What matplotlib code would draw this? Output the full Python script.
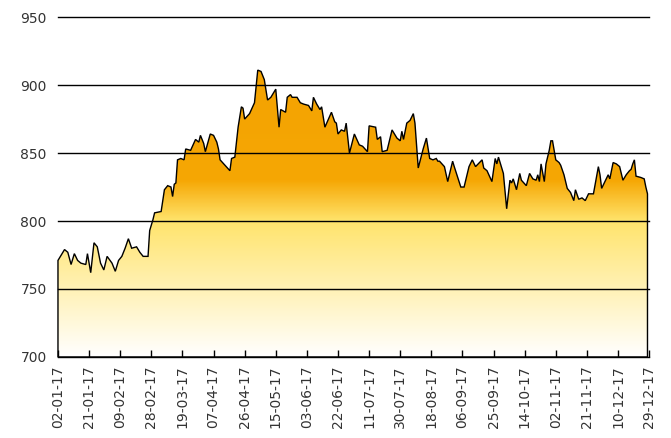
import datetime as dt
import numpy as np
import matplotlib
matplotlib.use("Agg")
import matplotlib.pyplot as plt
import matplotlib.dates as mdates
from matplotlib.colors import LinearSegmentedColormap

# Days since 02-01-17 and the closing values
days = [0, 4, 6, 8, 10, 12, 14, 17, 18, 20, 22, 24, 26, 28, 30, 33, 35, 37, 39,
        41, 43, 45, 48, 50, 52, 55, 56, 58, 59, 63, 65, 67, 69, 70, 71, 72, 73,
        75, 77, 78, 81, 84, 86, 87, 89, 90, 93, 95, 97, 98, 99, 102, 105, 106,
        108, 110, 112, 113, 114, 117, 120, 122, 124, 126, 128, 130, 133, 135,
        136, 139, 140, 142, 143, 146, 148, 150, 153, 155, 156, 158, 160, 161,
        163, 167, 169, 170, 171, 173, 175, 176, 178, 181, 184, 186, 189, 190,
        194, 195, 197, 198, 201, 204, 207, 209, 210, 211, 213, 215, 217, 218,
        220, 223, 225, 227, 229, 231, 232, 233, 236, 238, 241, 242, 246, 248,
        251, 253, 255, 259, 260, 262, 265, 267, 268, 269, 272, 274, 276, 277,
        278, 280, 282, 283, 286, 288, 290, 292, 293, 294, 295, 297, 298, 300,
        301, 302, 304, 306, 307, 309, 311, 313, 315, 316, 318, 320, 322, 324,
        327, 330, 331, 332, 334, 336, 337, 339, 341, 343, 345, 347, 349, 350,
        351, 352, 353, 356, 358, 359, 360]
values = [771, 779, 777, 768, 776, 771, 769, 768, 776, 762, 784, 781, 769, 764,
          774, 769, 763, 771, 774, 780, 787, 780, 781, 777, 774, 774, 793, 801,
          806, 807, 823, 826, 825, 818, 827, 828, 845, 846, 845, 853, 852, 860,
          858, 863, 857, 851, 864, 863, 858, 853, 845, 841, 837, 846, 847, 869,
          884, 883, 875, 879, 887, 911, 910, 904, 889, 891, 897, 869, 882, 880,
          891, 893, 891, 891, 887, 886, 885, 881, 891, 886, 882, 884, 869, 880,
          873, 872, 864, 867, 866, 872, 850, 864, 856, 855, 851, 870, 869, 860,
          862, 851, 852, 867, 861, 859, 866, 860, 872, 874, 879, 872, 839, 853,
          861, 846, 845, 846, 844, 844, 840, 829, 844, 840, 825, 825, 840, 845,
          840, 845, 839, 837, 829, 846, 842, 847, 835, 809, 830, 828, 831, 823,
          835, 830, 826, 835, 831, 830, 834, 829, 842, 829, 842, 852, 859, 859,
          845, 843, 841, 834, 824, 821, 815, 823, 816, 817, 815, 820, 820, 840,
          834, 824, 829, 834, 831, 843, 842, 840, 830, 834, 837, 838, 842, 845,
          833, 832, 831, 825, 820]

start = dt.date(2017, 1, 2)
dates = [start + dt.timedelta(days=d) for d in days]
tick_dates = [start + dt.timedelta(days=19 * i) for i in range(20)]

fig = plt.figure(figsize=(6.71, 4.38), dpi=100)
ax = fig.add_axes([0.0864, 0.185, 0.881, 0.776])

x = mdates.date2num(dates)
ymin, ymax = 700, 950

# gradient fill under the line, clipped to the area polygon
cmap = LinearSegmentedColormap.from_list(
    "gold", [(0.0, "#ffffff"), (0.40, "#ffe46c"), (0.52, "#f6a704"), (1.0, "#f2a000")])
grad = np.linspace(0, 1, 256).reshape(-1, 1)
im = ax.imshow(grad, cmap=cmap, origin="lower", aspect="auto",
               extent=[x[0], x[-1], ymin, ymax], zorder=1)
poly = ax.fill_between(x, values, ymin, facecolor="none", edgecolor="none")
clip = poly.get_paths()[0]
im.set_clip_path(clip, transform=ax.transData)

for v in [750, 800, 850, 900, 950]:
    ax.axhline(v, color="black", lw=1, zorder=2, clip_on=False)

# outline of the area, closed down to the baseline at both ends
ax.fill(np.r_[x[0], x, x[-1]], np.r_[ymin, values, ymin],
        facecolor="none", edgecolor="black", lw=1, zorder=3, clip_on=False)

ax.set_xlim(x[0], x[-1])
ax.set_ylim(ymin, ymax)
ax.set_yticks([700, 750, 800, 850, 900, 950])
ax.set_xticks(mdates.date2num(tick_dates))
ax.xaxis.set_major_formatter(mdates.DateFormatter("%d-%m-%y"))
ax.tick_params(axis="x", direction="in", length=5, width=1, rotation=90,
               labelsize=10, labelcolor="#333333", pad=6)
ax.tick_params(axis="y", length=0, labelsize=10, labelcolor="#333333", pad=8)

for s in ["top", "left", "right"]:
    ax.spines[s].set_visible(False)
ax.spines["bottom"].set_color("black")
ax.spines["bottom"].set_linewidth(1)

fig.savefig("out.png", dpi=100)
